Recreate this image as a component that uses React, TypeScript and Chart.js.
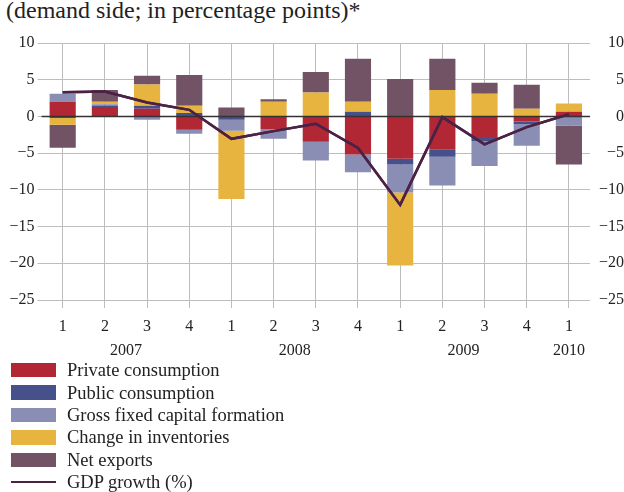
import React, { useEffect, useRef } from "react";
import { Chart, registerables } from "chart.js";

Chart.register(...registerables);

const quarters = ["1", "2", "3", "4", "1", "2", "3", "4", "1", "2", "3", "4", "1"];
const years = ["2007", "2008", "2009", "2010"];
// year label anchors: position between quarter indices (fractional index)
const yearPositions = [1.5, 5.5, 9.5, 12];

const privateConsumption = [2.0, 1.3, 1.05, -1.8, 0, -1.7, -3.45, -5.2, -5.75, -4.55, -2.8, -0.7, 0.65];
const publicConsumption = [-0.2, 0.2, 0.4, 0.45, -0.45, 0, 0, 0.65, -0.8, -0.95, -0.55, -0.35, 0];
const grossFixedCapital = [1.1, 0.15, -0.45, -0.55, -1.5, -1.35, -2.55, -2.4, -3.8, -3.9, -3.4, -2.95, -1.25];
const changeInventories = [-0.95, 0.35, 2.9, 1.0, -9.3, 2.0, 3.25, 1.35, -9.95, 3.6, 3.1, 1.05, 1.1];
const netExports = [-3.1, 1.6, 1.2, 4.2, 1.2, 0.35, 2.8, 5.85, 5.1, 4.25, 1.5, 3.25, -5.3];
const gdpGrowth = [3.3, 3.4, 1.9, 0.9, -3.05, -2.0, -1.0, -4.3, -12.05, -0.1, -3.8, -1.45, 0.3];

const barSeries = [
  { label: "Private consumption", data: privateConsumption, color: "#b12733" },
  { label: "Public consumption", data: publicConsumption, color: "#46508a" },
  { label: "Gross fixed capital formation", data: grossFixedCapital, color: "#8a8db4" },
  { label: "Change in inventories", data: changeInventories, color: "#e8b440" },
  { label: "Net exports", data: netExports, color: "#725366" },
];
const lineSeries = { label: "GDP growth (%)", data: gdpGrowth, color: "#4b2245" };

const FONT = "'Liberation Serif', 'Times New Roman', serif";
const TEXT = "#222";

const fmt = (v: number) => (v < 0 ? "\u2212" + Math.abs(v) : String(v));

export default function App() {
  const ref = useRef<HTMLCanvasElement | null>(null);

  useEffect(() => {
    document.body.style.margin = "0";
    const canvas = ref.current;
    if (!canvas) return;
    let chart: Chart | null = null;
    let cancelled = false;

    const yearPlugin = {
      id: "yearLabels",
      afterDraw(c: any) {
        const x = c.scales.x;
        const ctx = c.ctx;
        ctx.save();
        ctx.font = `16px ${FONT}`;
        ctx.fillStyle = TEXT;
        ctx.textAlign = "center";
        ctx.textBaseline = "middle";
        years.forEach((y, i) => {
          const p = yearPositions[i];
          const lo = Math.floor(p);
          const hi = Math.ceil(p);
          const px = (x.getPixelForValue(lo) + x.getPixelForValue(hi)) / 2;
          ctx.fillText(y, px, c.scales.y.bottom + 51);
        });
        ctx.restore();
      },
    };

    const zeroPlugin = {
      id: "zeroLine",
      afterDatasetsDraw(c: any) {
        const y = c.scales.y.getPixelForValue(0);
        const ctx = c.ctx;
        ctx.save();
        ctx.strokeStyle = "#333333";
        ctx.lineWidth = 1.5;
        ctx.beginPath();
        ctx.moveTo(c.chartArea.left, y);
        ctx.lineTo(c.chartArea.right, y);
        ctx.stroke();
        ctx.restore();
        // redraw GDP line on top of zero line
        const meta = c.getDatasetMeta(0);
        if (meta && meta.dataset) {
          ctx.save();
          meta.dataset.draw(ctx, c.chartArea);
          ctx.restore();
        }
      },
    };

    const build = () => {
      if (cancelled) return;
      chart = new Chart(canvas, {
        type: "bar",
        data: {
          labels: quarters,
          datasets: [
            {
              type: "line" as const,
              label: lineSeries.label,
              data: lineSeries.data,
              borderColor: lineSeries.color,
              backgroundColor: lineSeries.color,
              borderWidth: 2.5,
              pointRadius: 0,
              tension: 0,
              order: 0,
              yAxisID: "y",
            } as any,
            ...barSeries.map((s) => ({
              type: "bar" as const,
              label: s.label,
              data: s.data,
              backgroundColor: s.color,
              borderWidth: 0,
              categoryPercentage: 0.62,
              barPercentage: 1,
              stack: "s",
              order: 1,
              yAxisID: "y",
            })),
          ],
        },
        options: {
          animation: false,
          responsive: false,
          maintainAspectRatio: false,
          layout: { padding: { top: 43, left: 0, right: 0, bottom: 0 } },
          font: { family: FONT },
          plugins: {
            legend: { display: false },
            title: { display: false },
            tooltip: { enabled: false },
          },
          scales: {
            x: {
              stacked: true,
              grid: {
                color: "#bdbdbd",
                lineWidth: 1,
                offset: false,
                drawTicks: true,
                tickLength: 8,
              },
              border: { display: false },
              ticks: {
                font: { family: FONT, size: 16 },
                color: TEXT,
                padding: 9,
                maxRotation: 0,
              },
              afterFit(scale: any) {
                scale.height = 60;
              },
            },
            y: {
              stacked: true,
              position: "left",
              min: -25,
              max: 10,
              grid: {
                color: "#bdbdbd",
                lineWidth: 1,
                drawTicks: true,
                tickLength: 4,
              },
              border: { display: false },
              ticks: {
                stepSize: 5,
                font: { family: FONT, size: 16 },
                color: TEXT,
                padding: 3,
                callback: (v: any) => fmt(Number(v)),
              },
              afterFit(scale: any) {
                scale.width = 41.6;
              },
            },
            y2: {
              position: "right",
              min: -25,
              max: 10,
              grid: { display: false, drawOnChartArea: false, drawTicks: false },
              border: { display: false },
              ticks: {
                stepSize: 5,
                font: { family: FONT, size: 16 },
                color: TEXT,
                padding: 6,
                crossAlign: "far",
                callback: (v: any) => fmt(Number(v)),
              },
              afterFit(scale: any) {
                scale.width = 34;
              },
            },
          },
        } as any,
        plugins: [zeroPlugin, yearPlugin],
      });
    };

    const fontsApi: any = (document as any).fonts;
    if (fontsApi && fontsApi.load) {
      fontsApi
        .load(`16px "Liberation Serif"`, "\u22121234567890")
        .catch(() => undefined)
        .then(() => build());
    } else {
      build();
    }

    return () => {
      cancelled = true;
      if (chart) chart.destroy();
    };
  }, []);

  return (
    <div style={{ position: "relative", width: 624, height: 492, background: "#fff", fontFamily: FONT }}>
      <div
        style={{
          position: "absolute",
          left: 6,
          top: -3,
          fontSize: 24,
          color: TEXT,
          whiteSpace: "nowrap",
        }}
      >
        (demand side; in percentage points)*
      </div>
      <canvas ref={ref} width={624} height={360} style={{ position: "absolute", left: 0, top: 0, width: 624, height: 360 }} />
      <div style={{ position: "absolute", left: 11, top: 359 }}>
        {barSeries.map((s) => (
          <div key={s.label} style={{ display: "flex", alignItems: "center", height: 22.4 }}>
            <span style={{ display: "inline-block", width: 45, height: 14.5, background: s.color }} />
            <span style={{ marginLeft: 11, fontSize: 18.5, color: TEXT, lineHeight: "22px" }}>{s.label}</span>
          </div>
        ))}
        <div style={{ display: "flex", alignItems: "center", height: 22.4 }}>
          <span style={{ display: "inline-block", width: 45, height: 2.5, background: lineSeries.color }} />
          <span style={{ marginLeft: 11, fontSize: 18.5, color: TEXT, lineHeight: "22px" }}>{lineSeries.label}</span>
        </div>
      </div>
    </div>
  );
}
